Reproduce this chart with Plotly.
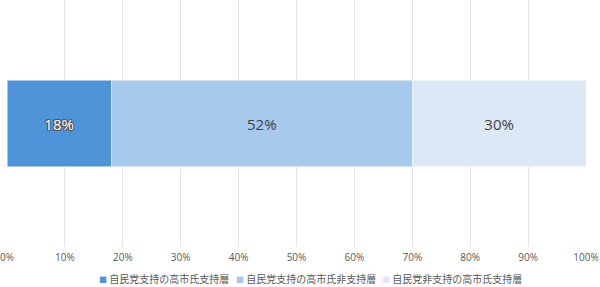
import plotly.graph_objects as go

categories = [""]
series_names = ["自民党支持の高市氏支持層", "自民党支持の高市氏非支持層", "自民党非支持の高市氏支持層"]
series_values = [[18], [52], [30]]
colors = ["#4F94D9", "#A7C9EB", "#DCE8F6"]
text_colors = ["#FFFFFF", "#404040", "#404040"]
tick_vals = [0, 10, 20, 30, 40, 50, 60, 70, 80, 90, 100]
tick_text = [f"{v}%" for v in tick_vals]
legend_x = [0.1555, 0.3925, 0.6445]

fig = go.Figure()
for name, vals, col, tc in zip(series_names, series_values, colors, text_colors):
    fig.add_trace(go.Bar(
        y=categories, x=vals, name=name, orientation="h",
        marker=dict(color=col, line=dict(color="rgba(255,255,255,0.5)", width=1)),
        text=[f"{v}%" for v in vals], textposition="inside", insidetextanchor="middle",
        textfont=dict(color=tc, size=15, family="Open Sans, Noto Sans CJK JP",
                      shadow=("1px 1px 0 #555, -1px -1px 0 #555, 1px -1px 0 #555, -1px 1px 0 #555"
                              if tc == "#FFFFFF" else "none")),
        width=0.352, showlegend=False,
    ))

for name, col, lx in zip(series_names, colors, legend_x):
    fig.add_annotation(
        xref="paper", yref="paper", x=lx, y=-0.126, xanchor="left", yanchor="middle",
        showarrow=False,
        text=f'<span style="color:{col};font-size:8px">■</span> {name}',
        font=dict(size=10, color="#595959", family="Noto Sans CJK JP"),
    )

fig.update_layout(
    barmode="stack",
    width=600, height=287,
    margin=dict(l=7, r=14, t=0, b=40, autoexpand=False),
    paper_bgcolor="white", plot_bgcolor="white",
    font=dict(family="Noto Sans CJK JP, Open Sans", color="#595959", size=11),
    showlegend=False,
    xaxis=dict(range=[0, 100], tickvals=tick_vals, ticktext=tick_text,
               showgrid=True, gridcolor="#E4E4E4", gridwidth=1, zeroline=False,
               tickfont=dict(size=10, color="#595959", family="Open Sans"),
               ticks="", showline=False, fixedrange=True, ticklabelstandoff=3,
               automargin=False),
    yaxis=dict(range=[-0.5, 0.5], showticklabels=False, showgrid=False, zeroline=False,
               fixedrange=True),
)

fig.write_html("out.html")
